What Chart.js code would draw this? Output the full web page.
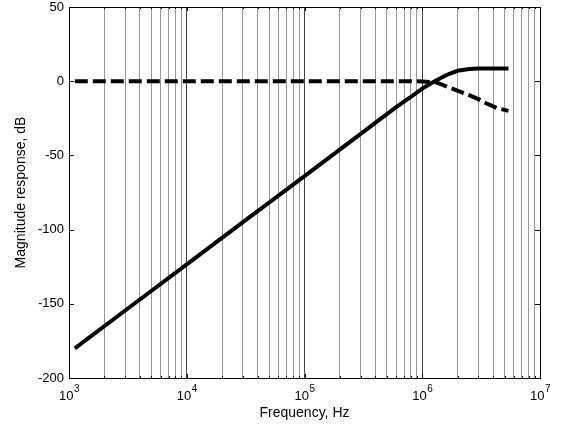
<!DOCTYPE html>
<html>
<head>
<meta charset="utf-8">
<script src="https://cdn.jsdelivr.net/npm/chart.js@4"></script>
<style>
  html, body { margin: 0; padding: 0; background: #fff; }
  #wrap { width: 565px; height: 429px; }
</style>
</head>
<body>
<div id="wrap"><canvas id="chart-grafico"></canvas></div>
<script>
// datos
const freqSolida = [1.12e3, 3e3, 1e4, 3e4, 1e5, 3e5, 6e5, 8e5, 1e6, 1.2e6, 1.42e6, 1.7e6, 2e6, 2.5e6, 3e6, 4e6, 5.4e6];
const magSolida  = [-180, -154.5, -123.5, -95, -64, -35.5, -17.5, -10.5, -5, -1.2, 2, 5, 7, 8.2, 8.5, 8.6, 8.6];

const freqRayada = [1.12e3, 1e5, 8e5, 1e6, 1.32e6, 1.72e6, 2.31e6, 3e6, 3.52e6, 4.28e6, 5.4e6];
const magRayada  = [0, 0, 0, -0.2, -0.8, -4.5, -8.3, -12.1, -15, -18, -20];

const decadas = [1e3, 1e4, 1e5, 1e6, 1e7];
const exponentes = ['3', '4', '5', '6', '7'];
const ticksX = [];
decadas.forEach((d, i) => {
    if (i < decadas.length - 1) {
        for (let k = 1; k <= 9; k++) ticksX.push(k * d);
    } else {
        ticksX.push(d);
    }
});
const ticksY = [50, 0, -50, -100, -150, -200];

const fuente = "'Liberation Sans', Arial, sans-serif";

const puntos = (xs, ys) => xs.map((x, i) => ({ x: x, y: ys[i] }));

const esDecada = (v) => decadas.some(d => Math.abs(v - d) < d * 1e-6);

// marco, marcas hacia dentro y etiquetas 10^n
const marco = {
    id: 'marco',
    afterDraw(chart) {
        const ctx = chart.ctx;
        const a = chart.chartArea;
        const sx = chart.scales.x;
        const sy = chart.scales.y;
        ctx.save();
        ctx.strokeStyle = '#000';
        ctx.lineWidth = 1;
        ctx.strokeRect(Math.round(a.left) + 0.5, Math.round(a.top) + 0.5,
                       Math.round(a.right - a.left), Math.round(a.bottom - a.top));
        ctx.beginPath();
        ticksY.forEach(v => {
            const y = Math.round(sy.getPixelForValue(v)) + 0.5;
            ctx.moveTo(a.left, y); ctx.lineTo(a.left + 5, y);
            ctx.moveTo(a.right, y); ctx.lineTo(a.right - 5, y);
        });
        ticksX.forEach(v => {
            const x = Math.round(sx.getPixelForValue(v)) + 0.5;
            const l = esDecada(v) ? 4 : 2;
            ctx.moveTo(x, a.bottom); ctx.lineTo(x, a.bottom - l);
            ctx.moveTo(x, a.top); ctx.lineTo(x, a.top + l);
        });
        ctx.stroke();

        ctx.fillStyle = '#000';
        ctx.textBaseline = 'alphabetic';
        ctx.textAlign = 'left';
        decadas.forEach((d, i) => {
            const px = sx.getPixelForValue(d);
            ctx.font = '13px ' + fuente;
            const w1 = ctx.measureText('10').width;
            ctx.font = '10px ' + fuente;
            const w2 = ctx.measureText(exponentes[i]).width;
            const x0 = px - (w1 + w2) / 2;
            ctx.font = '13px ' + fuente;
            ctx.fillText('10', x0, a.bottom + 22);
            ctx.font = '10px ' + fuente;
            ctx.fillText(exponentes[i], x0 + w1 + 0.5, a.bottom + 14);
        });
        ctx.restore();
    }
};

const ctx = document.getElementById('chart-grafico');
new Chart(ctx, {
    type: 'line',
    data: {
        datasets: [
            {
                label: 'Solida',
                data: puntos(freqSolida, magSolida),
                borderColor: '#000',
                borderWidth: 4,
                borderCapStyle: 'butt',
                pointRadius: 0,
                tension: 0
            },
            {
                label: 'Rayada',
                data: puntos(freqRayada, magRayada),
                borderColor: '#000',
                borderWidth: 4,
                borderDash: [13, 5],
                borderCapStyle: 'butt',
                pointRadius: 0,
                tension: 0
            }
        ]
    },
    options: {
        responsive: true,
        maintainAspectRatio: false,
        animation: false,
        devicePixelRatio: 1,
        layout: { padding: { left: 0, right: 25, top: 7, bottom: 0 } },
        plugins: { legend: { display: false }, tooltip: { enabled: false } },
        scales: {
            x: {
                type: 'logarithmic',
                min: 1e3,
                max: 1e7,
                afterBuildTicks: (scale) => { scale.ticks = ticksX.map(v => ({ value: v })); },
                afterFit: (scale) => { scale.height = 51; scale.paddingLeft = 0; scale.paddingRight = 0; },
                ticks: { display: false },
                grid: {
                    drawTicks: false,
                    lineWidth: 1,
                    color: (c) => (c.tick && esDecada(c.tick.value)) ? '#444' : '#999'
                },
                border: { color: '#000' },
                title: {
                    display: true,
                    text: 'Frequency, Hz',
                    color: '#000',
                    font: { family: fuente, size: 14 },
                    padding: { top: 0, bottom: 7 }
                }
            },
            y: {
                min: -200,
                max: 50,
                afterBuildTicks: (scale) => { scale.ticks = ticksY.map(v => ({ value: v })); },
                afterFit: (scale) => { scale.width = 69; scale.paddingTop = 0; scale.paddingBottom = 0; },
                ticks: { color: '#000', padding: 5, font: { family: fuente, size: 13 } },
                grid: { display: false, drawTicks: false },
                border: { color: '#000' },
                title: {
                    display: true,
                    text: 'Magnitude response, dB',
                    color: '#000',
                    font: { family: fuente, size: 14 },
                    padding: { top: 13, bottom: 0 }
                }
            }
        }
    },
    plugins: [marco]
});
</script>
</body>
</html>
